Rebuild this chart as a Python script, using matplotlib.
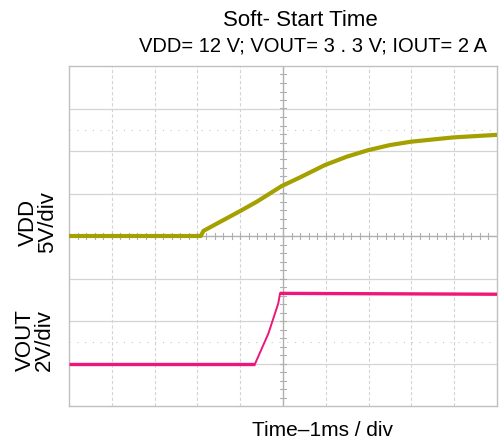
import numpy as np
import matplotlib
matplotlib.use("Agg")
import matplotlib.pyplot as plt

plt.rcParams['font.family'] = ['Liberation Sans', 'DejaVu Sans']

vdd_t = [0, 3.08, 3.14, 3.61, 4.0, 4.39, 4.70, 4.97, 5.40, 5.98, 6.49, 6.99, 7.5, 8.0, 8.98, 10.0]
vdd_v = [0, 0, 0.6, 1.88, 2.94, 4.04, 5.02, 5.88, 6.9, 8.35, 9.33, 10.1, 10.7, 11.1, 11.6, 11.9]

vout_t = [0, 4.35, 4.42, 4.66, 4.89, 4.93, 10.0]
vout_v = [0, 0, 0.32, 1.42, 2.83, 3.3, 3.26]

# Escalas y offsets de canal (divisiones)
vdd_scale, vdd_offset = 5.0, 4.0
vout_scale, vout_offset = 2.0, 1.0

title = "Soft- Start Time"
subtitle = "VDD= 12 V; VOUT= 3 . 3 V; IOUT= 2 A"
xlabel = "Time\u20131ms / div"

fig = plt.figure(figsize=(5.01, 4.43), dpi=100)
ax = fig.add_axes([69 / 501, 37 / 443, 428 / 501, 340 / 443])
ax.set_xlim(0, 10)
ax.set_ylim(0, 8)

grid_c = "#d4d4d4"
# reticula
for y in range(1, 8):
    if y != 4:
        ax.axhline(y, color=grid_c, lw=0.9, zorder=1)
for x in range(1, 10):
    if x != 5:
        ax.axvline(x, color=grid_c, lw=0.8, ls=(0, (3, 2)), zorder=1)
for y in (1.5, 6.5):
    ax.axhline(y, color="#c8c8c8", lw=0.8, ls=(0, (1, 6)), zorder=1)

# ejes centrales con marcas
center_c = "#b0b0b0"
ax.axhline(4, color=center_c, lw=1.0, zorder=1)
ax.axvline(5, color=center_c, lw=1.0, zorder=1)
for xt in np.arange(0.2, 10, 0.2):
    ax.plot([xt, xt], [3.93, 4.07], color=center_c, lw=0.8, zorder=1)
for yt in np.arange(0.2, 8, 0.2):
    ax.plot([4.93, 5.07], [yt, yt], color=center_c, lw=0.8, zorder=1)

for s in ax.spines.values():
    s.set_color("#c0c0c0")
    s.set_linewidth(1.0)
ax.set_xticks([])
ax.set_yticks([])

# trazas
vdd_y = np.array(vdd_v) / vdd_scale + vdd_offset
ax.plot(vdd_t, vdd_y, color="#a3a000", lw=3.0, zorder=3, solid_capstyle="butt",
        solid_joinstyle="round")

vout_y = np.array(vout_v) / vout_scale + vout_offset
c_out = "#f0157a"
ax.plot(vout_t[:2], vout_y[:2], color=c_out, lw=2.4, zorder=3, solid_capstyle="butt")
ax.plot(vout_t[1:6], vout_y[1:6], color=c_out, lw=1.4, zorder=3)
ax.plot(vout_t[5:], vout_y[5:], color=c_out, lw=2.4, zorder=3, solid_capstyle="butt")

# textos
fig.text(300 / 501, 1 - 21 / 443, title, ha="center", va="center", fontsize=16)
fig.text(313 / 501, 1 - 46 / 443, subtitle, ha="center", va="center", fontsize=14.5)
fig.text(322 / 501, 1 - 430 / 443, xlabel, ha="center", va="center", fontsize=15)
fig.text(38 / 501, 1 - 222 / 443, "VDD\n5V/div", ha="center", va="center",
         rotation=90, fontsize=16, linespacing=0.85, multialignment="center")
fig.text(35 / 501, 1 - 340 / 443, "VOUT\n2V/div", ha="center", va="center",
         rotation=90, fontsize=16, linespacing=0.85, multialignment="center")

fig.savefig("out.png", dpi=100)
